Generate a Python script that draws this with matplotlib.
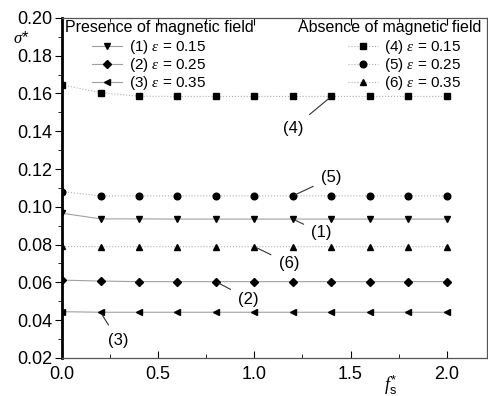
import matplotlib
matplotlib.use("Agg")
import matplotlib.pyplot as plt
from matplotlib.ticker import MultipleLocator, FormatStrFormatter

plt.rcParams['font.family'] = ['Liberation Sans', 'DejaVu Sans']
plt.rcParams['mathtext.fontset'] = 'custom'
plt.rcParams['mathtext.rm'] = 'Liberation Sans'
plt.rcParams['mathtext.it'] = 'Liberation Serif:italic'

fs = [0.0, 0.2, 0.4, 0.6, 0.8, 1.0, 1.2, 1.4, 1.6, 1.8, 2.0]

# presence of magnetic field
s1 = [0.0966, 0.0936, 0.0936, 0.0935, 0.0935, 0.0935, 0.0935, 0.0935, 0.0935, 0.0935, 0.0935]
s2 = [0.0612, 0.0607, 0.0604, 0.0604, 0.0604, 0.0604, 0.0604, 0.0604, 0.0604, 0.0604, 0.0604]
s3 = [0.0445, 0.0442, 0.0442, 0.0442, 0.0442, 0.0442, 0.0442, 0.0442, 0.0442, 0.0442, 0.0442]
# absence of magnetic field
s4 = [0.1645, 0.1604, 0.1585, 0.1584, 0.1584, 0.1584, 0.1584, 0.1584, 0.1584, 0.1584, 0.1584]
s5 = [0.1080, 0.1058, 0.1058, 0.1058, 0.1058, 0.1058, 0.1058, 0.1058, 0.1058, 0.1058, 0.1058]
s6 = [0.0790, 0.0789, 0.0789, 0.0789, 0.0789, 0.0789, 0.0789, 0.0789, 0.0789, 0.0789, 0.0789]

eps_labels = ['0.15', '0.25', '0.35']

fig = plt.figure(figsize=(4.89, 3.96), dpi=100)
ax = fig.add_axes([0.127, 0.096, 0.869, 0.859])

solid_c = '#a0a0a0'
dot_c = '#b0b0b0'
common = dict(mfc='k', mec='k', lw=0.8, zorder=3)
h1, = ax.plot(fs, s1, '-', marker='v', markersize=5, color=solid_c, **common)
h2, = ax.plot(fs, s2, '-', marker='D', markersize=4.2, color=solid_c, **common)
h3, = ax.plot(fs, s3, '-', marker='<', markersize=5, color=solid_c, **common)
h4, = ax.plot(fs, s4, ':', marker='s', markersize=4.2, color=dot_c, **common)
h5, = ax.plot(fs, s5, ':', marker='o', markersize=4.8, color=dot_c, **common)
h6, = ax.plot(fs, s6, ':', marker='^', markersize=5, color=dot_c, **common)

ax.set_xlim(0, 2.21)
ax.set_ylim(0.02, 0.20)
ax.xaxis.set_major_locator(MultipleLocator(0.5))
ax.xaxis.set_minor_locator(MultipleLocator(0.25))
ax.yaxis.set_major_locator(MultipleLocator(0.02))
ax.yaxis.set_minor_locator(MultipleLocator(0.01))
ax.xaxis.set_major_formatter(FormatStrFormatter('%.1f'))
ax.yaxis.set_major_formatter(FormatStrFormatter('%.2f'))
ax.tick_params(axis='x', which='both', direction='in', top=True, labelsize=13, pad=6)
ax.tick_params(axis='x', which='major', length=5)
ax.tick_params(axis='x', which='minor', length=3)
ax.tick_params(axis='y', which='both', direction='out', right=True, labelsize=13, pad=2)
ax.tick_params(axis='y', which='major', length=5)
ax.tick_params(axis='y', which='minor', length=3)
for side in ['top', 'right', 'bottom']:
    ax.spines[side].set_color('#555555')
    ax.spines[side].set_linewidth(0.9)
ax.spines['left'].set_linewidth(2.0)

ax.text(-0.215, 0.1892, r'$\sigma$*', fontsize=12, ha='center', va='center', clip_on=False)
ax.text(1.71, 0.0055, r'$f_{\rm s}^{*}$', fontsize=13, ha='center', va='center', clip_on=False)

# legend titles drawn as plain text, entries indented beneath them
ax.text(0.015, 0.1948, 'Presence of magnetic field', fontsize=11.5, ha='left', va='center')
ax.text(2.18, 0.1948, 'Absence of magnetic field', fontsize=11.5, ha='right', va='center')

leg_kw = dict(frameon=False, fontsize=11, handlelength=2.0, labelspacing=0.0,
              handletextpad=0.4, borderpad=0, borderaxespad=0)
leg1 = ax.legend([h1, h2, h3], [f'({i}) $\\varepsilon$ = {e}' for i, e in zip([1, 2, 3], eps_labels)],
                 loc='upper left', bbox_to_anchor=(0.07, 0.94), **leg_kw)
ax.add_artist(leg1)
leg2 = ax.legend([h4, h5, h6], [f'({i}) $\\varepsilon$ = {e}' for i, e in zip([4, 5, 6], eps_labels)],
                 loc='upper right', bbox_to_anchor=(0.94, 0.94), **leg_kw)

arrow = dict(arrowstyle='-', color='#333333', lw=0.8, shrinkA=4, shrinkB=2)
ann = dict(fontsize=12, arrowprops=arrow, ha='center', va='center')
ax.annotate('(4)', xy=(fs[7], s4[7]), xytext=(1.20, 0.1415), **ann)
ax.annotate('(5)', xy=(fs[6], s5[6]), xytext=(1.40, 0.1153), **ann)
ax.annotate('(1)', xy=(fs[6], s1[6]), xytext=(1.35, 0.0862), **ann)
ax.annotate('(6)', xy=(fs[5], s6[5]), xytext=(1.18, 0.0700), **ann)
ax.annotate('(2)', xy=(fs[4], s2[4]), xytext=(0.97, 0.0512), **ann)
ax.annotate('(3)', xy=(fs[1], s3[1]), xytext=(0.29, 0.0295), **ann)

fig.savefig('out.png', dpi=100)
